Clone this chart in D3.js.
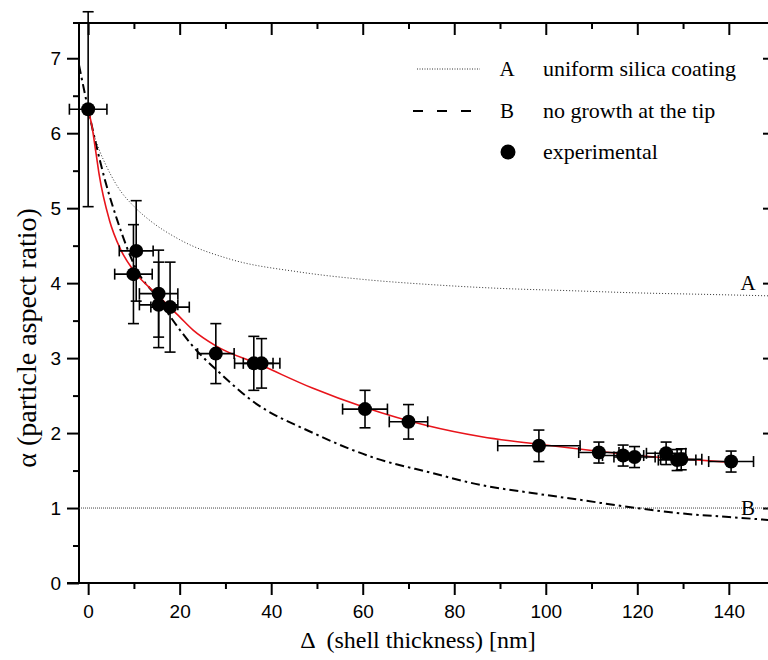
<!DOCTYPE html>
<html>
<head>
<meta charset="utf-8">
<script src="https://cdn.jsdelivr.net/npm/d3@7"></script>
<style>
  body { margin: 0; background: #fff; }
</style>
</head>
<body>
<div id="chart1"></div>
<script>
// experimental points (shell thickness in nm, aspect ratio) with error bars
const thickness    = [0, 10.5, 9.9, 15.4, 15.4, 17.9, 27.9, 36.2, 37.9, 60.5, 70, 98.5, 111.6, 116.9, 119.4, 126.3, 128.7, 129.6, 140.5];
const aspect       = [6.32, 4.43, 4.12, 3.86, 3.71, 3.68, 3.06, 2.93, 2.93, 2.32, 2.15, 1.83, 1.74, 1.70, 1.68, 1.73, 1.64, 1.65, 1.62];
const thicknessErr = [4.1, 3.7, 4.1, 4.2, 4.2, 4.2, 4, 4.2, 4, 4.9, 4.2, 9, 4.4, 4.5, 4.5, 4.3, 4.1, 4.5, 4.9];
const aspectErr    = [1.3, 0.67, 0.66, 0.58, 0.57, 0.6, 0.4, 0.36, 0.33, 0.25, 0.23, 0.21, 0.14, 0.14, 0.14, 0.15, 0.14, 0.14, 0.14];

// fit through the experimental points (red)
const fitX = [0, 0.8, 1.75, 2.4, 4.65, 7, 9.9, 15, 20, 23, 28, 37.6, 49, 60.5, 74, 86, 98.5, 111, 122, 131, 140.5];
const fitY = [6.32, 6.1, 5.72, 5.45, 4.84, 4.46, 4.17, 3.85, 3.55, 3.37, 3.16, 2.91, 2.6, 2.34, 2.1, 1.95, 1.85, 1.76, 1.69, 1.65, 1.61];

// model A: uniform silica coating (dotted)
const modelAX = [0, 1.2, 2.6, 4, 6.3, 10.4, 13.2, 20, 31, 46, 60, 75, 90, 105, 120, 135, 149];
const modelAY = [6.32, 6.0, 5.75, 5.56, 5.3, 5.0, 4.85, 4.58, 4.32, 4.15, 4.05, 3.98, 3.93, 3.9, 3.87, 3.85, 3.83];

// model B: no growth at the tip (dash-dot)
const modelBX = [-2, 0, 3.7, 6.3, 10.4, 15.5, 18, 23, 28.8, 35.4, 49.2, 63, 75, 85.6, 97, 107.4, 119.8, 129.3, 140, 149];
const modelBY = [6.91, 6.32, 5.37, 4.85, 4.2, 3.78, 3.55, 3.15, 2.8, 2.45, 2.0, 1.66, 1.47, 1.31, 1.2, 1.11, 1.0, 0.93, 0.88, 0.84];

// asymptote of model B
const limitB = 1;

const xTicks = [0, 20, 40, 60, 80, 100, 120, 140];
const xMinor = [10, 30, 50, 70, 90, 110, 130];
const yTicks = [0, 1, 2, 3, 4, 5, 6, 7];
const yMinor = [0.5, 1.5, 2.5, 3.5, 4.5, 5.5, 6.5];

const legendItems = [
  { key: "A", label: "uniform silica coating", type: "dotted" },
  { key: "B", label: "no growth at the tip", type: "dashed" },
  { key: "",  label: "experimental", type: "dot" }
];

const serif = "'Liberation Serif', 'Times New Roman', serif";
const sans = "'Liberation Sans', Arial, sans-serif";

function drawChart() {
  const W = 768, H = 660;
  const svg = d3.select("#chart1")
    .append("svg")
      .attr("width", W)
      .attr("height", H);

// SCALE AND AXIS
  const xs = d3.scaleLinear().domain([-2, 149]).range([79, 770]);
  const ys = d3.scaleLinear().domain([0, 7.47]).range([583, 23]);
  const left = 79, right = 770, top = 23, bottom = 583;

  svg.append("defs").append("clipPath").attr("id", "plot")
    .append("rect")
      .attr("x", left).attr("y", top)
      .attr("width", right - left).attr("height", bottom - top);

  function styleAxis(g, size) {
    g.select(".domain").remove();
    g.selectAll(".tick line").attr("stroke", "#000").attr("stroke-width", 2);
    g.selectAll("text")
      .attr("fill", "#000")
      .style("font-family", sans)
      .style("font-size", size + "px");
  }

  // bottom
  svg.append("g")
    .attr("transform", `translate(0,${bottom})`)
    .call(d3.axisBottom(xs).tickValues(xTicks).tickSize(12).tickPadding(10).tickFormat(d3.format("d")))
    .call(g => styleAxis(g, 19));
  svg.append("g")
    .attr("transform", `translate(0,${bottom})`)
    .call(d3.axisBottom(xs).tickValues(xMinor).tickSize(6).tickFormat(""))
    .call(g => styleAxis(g, 19));

  // top (ticks inward)
  svg.append("g")
    .attr("transform", `translate(0,${top})`)
    .call(d3.axisBottom(xs).tickValues(xTicks).tickSize(12).tickFormat(""))
    .call(g => styleAxis(g, 19));
  svg.append("g")
    .attr("transform", `translate(0,${top})`)
    .call(d3.axisBottom(xs).tickValues(xMinor).tickSize(6).tickFormat(""))
    .call(g => styleAxis(g, 19));

  // left
  svg.append("g")
    .attr("transform", `translate(${left},0)`)
    .call(d3.axisLeft(ys).tickValues(yTicks).tickSize(12).tickPadding(6).tickFormat(d3.format("d")))
    .call(g => styleAxis(g, 19));
  svg.append("g")
    .attr("transform", `translate(${left},0)`)
    .call(d3.axisLeft(ys).tickValues(yMinor).tickSize(6).tickFormat(""))
    .call(g => styleAxis(g, 19));

  // right (ticks inward)
  svg.append("g")
    .attr("transform", `translate(${right},0)`)
    .call(d3.axisLeft(ys).tickValues(yTicks.slice(1)).tickSize(7).tickFormat(""))
    .call(g => styleAxis(g, 19));

  // spines
  const spines = svg.append("g").attr("stroke", "#000").attr("stroke-width", 2);
  spines.append("line").attr("x1", 67).attr("x2", right).attr("y1", bottom).attr("y2", bottom);
  spines.append("line").attr("x1", 73).attr("x2", right).attr("y1", top).attr("y2", top);
  spines.append("line").attr("x1", left).attr("x2", left).attr("y1", top).attr("y2", bottom);
  spines.append("line").attr("x1", right).attr("x2", right).attr("y1", top).attr("y2", bottom);

  // axis titles
  svg.append("text")
    .attr("x", 418)
    .attr("y", 648)
    .attr("text-anchor", "middle")
    .style("white-space", "pre")
    .style("font-family", serif)
    .style("font-size", "24px")
    .text("\u0394  (shell thickness) [nm]");

  svg.append("text")
    .attr("transform", "rotate(-90)")
    .attr("x", -338)
    .attr("y", 36)
    .attr("text-anchor", "middle")
    .style("font-family", serif)
    .style("font-size", "28px")
    .text("\u03b1 (particle aspect ratio)");

// MODEL CURVES
  const plot = svg.append("g").attr("clip-path", "url(#plot)");
  const line = d3.line()
    .x(d => xs(d[0]))
    .y(d => ys(d[1]))
    .curve(d3.curveMonotoneX);

  // horizontal limit for B
  plot.append("line")
    .attr("x1", left).attr("x2", right)
    .attr("y1", ys(limitB)).attr("y2", ys(limitB))
    .attr("stroke", "#444")
    .attr("stroke-width", 1)
    .attr("stroke-dasharray", "1,1");

  plot.append("path")
    .attr("fill", "none")
    .attr("stroke", "#333")
    .attr("stroke-width", 1)
    .attr("stroke-dasharray", "1,2")
    .attr("d", line(d3.zip(modelAX, modelAY)));

// EXPERIMENTAL POINTS
  const points = d3.range(thickness.length).map(i => ({
    x: thickness[i], y: aspect[i], ex: thicknessErr[i], ey: aspectErr[i]
  }));

  const eb = svg.append("g").attr("stroke", "#000").attr("stroke-width", 1.6);
  const cap = 5.5;
  points.forEach(d => {
    const cx = xs(d.x), cy = ys(d.y);
    const x0 = xs(d.x - d.ex), x1 = xs(d.x + d.ex);
    const y0 = ys(d.y - d.ey), y1 = ys(d.y + d.ey);
    eb.append("line").attr("x1", x0).attr("x2", x1).attr("y1", cy).attr("y2", cy);
    eb.append("line").attr("x1", x0).attr("x2", x0).attr("y1", cy - cap).attr("y2", cy + cap);
    eb.append("line").attr("x1", x1).attr("x2", x1).attr("y1", cy - cap).attr("y2", cy + cap);
    eb.append("line").attr("x1", cx).attr("x2", cx).attr("y1", y0).attr("y2", y1);
    eb.append("line").attr("x1", cx - cap).attr("x2", cx + cap).attr("y1", y0).attr("y2", y0);
    eb.append("line").attr("x1", cx - cap).attr("x2", cx + cap).attr("y1", y1).attr("y2", y1);
  });

  svg.append("g")
    .selectAll("circle")
    .data(points)
    .enter()
    .append("circle")
      .attr("cx", d => xs(d.x))
      .attr("cy", d => ys(d.y))
      .attr("r", 7)
      .attr("fill", "#000");

  plot.append("path")
    .attr("fill", "none")
    .attr("stroke", "#000")
    .attr("stroke-width", 2)
    .attr("stroke-dasharray", "9,4,2.5,4")
    .attr("d", line(d3.zip(modelBX, modelBY)));

  plot.append("path")
    .attr("fill", "none")
    .attr("stroke", "#e8141b")
    .attr("stroke-width", 1.6)
    .attr("d", line(d3.zip(fitX, fitY)));

  // curve labels
  svg.append("text")
    .attr("x", 748).attr("y", ys(4) + 7)
    .attr("text-anchor", "middle")
    .style("font-family", serif).style("font-size", "21px")
    .text("A");
  svg.append("text")
    .attr("x", 748).attr("y", ys(1) + 7)
    .attr("text-anchor", "middle")
    .style("font-family", serif).style("font-size", "21px")
    .text("B");

// LEGEND
  const legend = svg.selectAll("g.legend")
    .data(legendItems)
    .enter()
    .append("g")
    .attr("class", "legend")
    .attr("transform", (d, i) => `translate(0,${[69, 111, 152][i]})`);

  legend.filter(d => d.type === "dotted").append("line")
    .attr("x1", 417).attr("x2", 480).attr("y1", 0).attr("y2", 0)
    .attr("stroke", "#333").attr("stroke-width", 1).attr("stroke-dasharray", "1,1.5");
  legend.filter(d => d.type === "dashed").append("line")
    .attr("x1", 413).attr("x2", 471).attr("y1", 0).attr("y2", 0)
    .attr("stroke", "#000").attr("stroke-width", 2).attr("stroke-dasharray", "10,14");
  legend.filter(d => d.type === "dot").append("circle")
    .attr("cx", 508).attr("cy", 0).attr("r", 7.5).attr("fill", "#000");

  legend.append("text")
    .attr("x", 507).attr("y", 7)
    .attr("text-anchor", "middle")
    .style("font-family", serif).style("font-size", "21px")
    .text(d => d.key);
  legend.append("text")
    .attr("x", 543).attr("y", 7)
    .style("font-family", serif).style("font-size", "22px")
    .text(d => d.label);
}

drawChart();
</script>
</body>
</html>
